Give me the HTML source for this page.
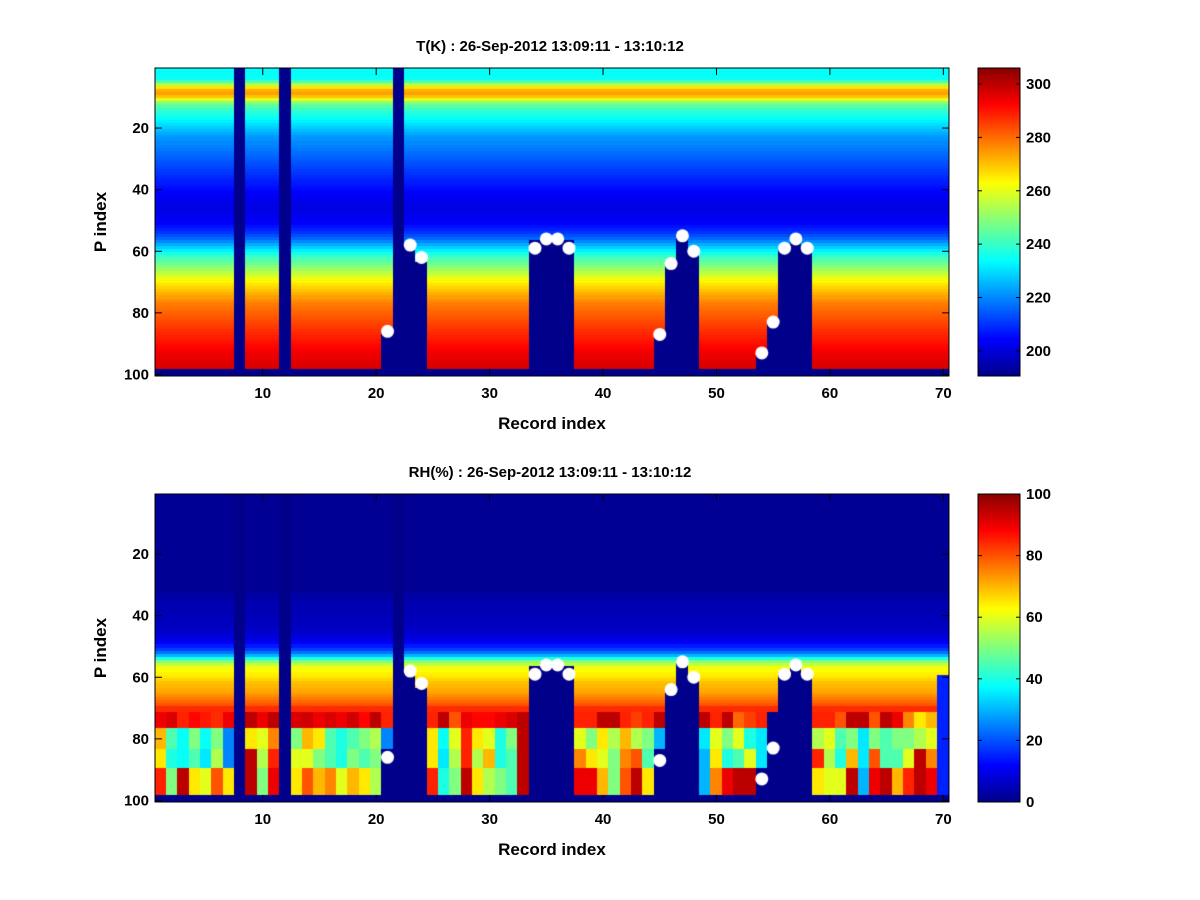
<!DOCTYPE html>
<html><head><meta charset="utf-8"><style>
body{margin:0;background:#fff;width:1200px;height:900px;overflow:hidden;font-family:"Liberation Sans",sans-serif}
svg text{font-family:"Liberation Sans",sans-serif;font-weight:bold;fill:#000}
canvas{position:absolute}
</style></head><body>
<div style="position:relative;width:1200px;height:900px">
<canvas id="c1" width="794" height="308" style="left:155px;top:68px"></canvas>
<canvas id="c2" width="794" height="308" style="left:155px;top:494px"></canvas>
<canvas id="cb1" width="42" height="308" style="left:978px;top:68px"></canvas>
<canvas id="cb2" width="42" height="308" style="left:978px;top:494px"></canvas>
<svg id="ov" width="1200" height="900" style="position:absolute;left:0;top:0"></svg>
</div>
<script>
const nRec=70, nP=100;
const tProfile=[234,234,234,235,242,254,266,272,274,270,260,250,244,240,238,236,234,232,230,228,226,224,222,221,220,219,218,217,216,215,214,213,212,211,210,209,208,207,206,205,204,203,202,202,201,201,201,202,202,203,204,206,208,210,213,216,220,224,228,232,236,240,243,246,249,252,255,258,261,264,266,268,270,272,274,276,278,279,280,281,282,283,284,285,286,287,288,289,290,291,292,293,294,295,295,296,296,297];
const rhProfile=[1,1,1,1,1,1,1,1,1,1,1,1,1,1,1,1,1,1,1,1,1,1,1,1,1,1,1,1,1,1,1,1,2,3,3,4,4,4,4,5,5,5,5,6,6,7,8,9,11,14,18,23,30,40,50,57,61,63,64,65,67,69,70,71,72,74,76,78,80,84];
const rh72=[90,92,85,88,86,84,90,0,95,90,95,0,92,93,90,92,90,93,88,95,85,0,0,0,85,95,80,90,88,88,90,92,95,0,0,0,0,85,85,95,95,85,82,85,95,0,0,0,95,85,95,78,82,85,0,0,0,0,85,85,80,95,95,80,95,90,75,65,70,15];
const rhA=[70,45,38,50,38,50,25,0,65,60,75,0,50,70,65,45,40,45,50,55,25,0,0,0,65,38,60,85,65,60,40,50,95,0,0,0,0,60,50,65,55,70,55,50,30,0,0,0,35,60,50,60,40,35,0,0,0,0,55,60,45,50,35,50,45,50,50,55,60,15];
const rhB=[65,40,38,45,35,55,25,0,95,55,85,0,60,60,50,45,40,50,45,50,0,0,0,0,65,35,55,85,55,70,40,45,95,0,0,0,0,75,65,60,50,75,80,45,0,0,0,0,30,65,40,45,60,35,0,0,0,0,85,55,40,70,35,80,45,45,60,95,75,15];
const rhC=[85,50,95,65,60,80,65,0,95,50,90,0,65,80,70,75,60,70,65,55,0,0,0,0,85,40,50,95,65,55,50,45,95,0,0,0,0,90,90,70,50,80,95,65,0,0,0,0,30,75,90,95,95,0,0,0,0,0,65,60,60,95,30,90,95,70,85,95,90,15];
const cutoff=[99,99,99,99,99,99,99,1,99,99,99,1,99,99,99,99,99,99,99,99,86,1,58,64,99,99,99,99,99,99,99,99,99,57,56,56,57,99,99,99,99,99,99,99,87,64,55,60,99,99,99,99,99,93,83,59,56,59,99,99,99,99,99,99,99,99,99,99,99,99];
const dotRec=[21,23,24,34,35,36,37,45,46,47,48,54,55,56,57,58];
const dotP=[86,58,62,59,56,56,59,87,64,55,60,93,83,59,56,59];
const xTicks=[10,20,30,40,50,60,70];
const yTicks=[20,40,60,80,100];
const tTicks=[200,220,240,260,280,300];
const rhTicks=[0,20,40,60,80,100];
const tMin=190.6,tMax=306,rhMin=0,rhMax=100;

const W=794,H=308;
function xs(r){return (r-0.5)/nRec*W;}
function ys(p){return (p-0.5)/nP*H;}
function jet(t){t=Math.max(0,Math.min(1,t))*0.98+0.01;
 const c=v=>Math.round(255*Math.max(0,Math.min(1,v)));
 return `rgb(${c(1.5-Math.abs(4*t-3))},${c(1.5-Math.abs(4*t-2))},${c(1.5-Math.abs(4*t-1))})`;}
function tVal(c,p){if(p>=99||p>=cutoff[c])return tMin;return tProfile[p-1];}
function rhVal(c,p){if(p>=99||p>=cutoff[c])return 0;
 if(c===69&&p>=60)return rhA[c];
 if(p<=71)return rhProfile[p-1];
 if(p<=76)return rh72[c]; if(p<=83)return rhA[c]; if(p<=89)return rhB[c]; return rhC[c];}
function drawHeat(id,fn,mn,mx){const g=document.getElementById(id).getContext('2d');
 for(let c=0;c<nRec;c++)for(let p=1;p<=nP;p++){const v=fn(c,p);g.fillStyle=jet((v-mn)/(mx-mn));
  const x0=Math.floor(xs(c+0.5)),x1=Math.ceil(xs(c+1.5)),y0=Math.floor(ys(p-0.5)),y1=Math.ceil(ys(p+0.5));
  g.fillRect(x0,y0,x1-x0,y1-y0);}
 g.fillStyle='#fff';
 for(let i=0;i<dotRec.length;i++){g.beginPath();g.arc(xs(dotRec[i]),ys(dotP[i]),6.5,0,7);g.fill();}}
drawHeat('c1',tVal,tMin,tMax);drawHeat('c2',rhVal,rhMin,rhMax);
function drawBar(id){const g=document.getElementById(id).getContext('2d');
 for(let y=0;y<H;y++){g.fillStyle=jet(1-y/(H-1));g.fillRect(0,y,42,1);}}
drawBar('cb1');drawBar('cb2');

const ov=document.getElementById('ov');const NS='http://www.w3.org/2000/svg';
function el(tag,a,txt){const e=document.createElementNS(NS,tag);for(const k in a)e.setAttribute(k,a[k]);if(txt!==undefined)e.textContent=txt;ov.appendChild(e);return e;}
function panel(top,title,cbTicks,cmin,cmax,nm){
 const L=155,T=top;
 let e=el('rect',{x:L,y:T,width:W,height:H,fill:'none',stroke:'#000','stroke-width':1});
 
 xTicks.forEach(v=>{const x=L+xs(v);
  el('line',{x1:x,y1:T,x2:x,y2:T+7,stroke:'#000'});el('line',{x1:x,y1:T+H,x2:x,y2:T+H-7,stroke:'#000'});
  e=el('text',{x:x,y:T+H+22,'text-anchor':'middle','font-size':15},String(v));
  });
 yTicks.forEach(v=>{const y=T+ys(v);
  el('line',{x1:L,y1:y,x2:L+7,y2:y,stroke:'#000'});el('line',{x1:L+W,y1:y,x2:L+W-7,y2:y,stroke:'#000'});
  e=el('text',{x:L-6,y:y+5,'text-anchor':'end','font-size':15},String(v));
  });
 e=el('text',{x:L+W/2,y:T+H+53,'text-anchor':'middle','font-size':17},'Record index');
 
 e=el('text',{x:0,y:0,'text-anchor':'middle','font-size':17,transform:`translate(106,${T+H/2}) rotate(-90)`},'P index');
 
 e=el('text',{x:550,y:T-17,'text-anchor':'middle','font-size':15},title);
 
 e=el('rect',{x:978,y:T,width:42,height:H,fill:'none',stroke:'#000'});
 
 cbTicks.forEach(v=>{const y=T+H-(v-cmin)/(cmax-cmin)*H;
  el('line',{x1:978,y1:y,x2:982,y2:y,stroke:'#000'});el('line',{x1:1020,y1:y,x2:1016,y2:y,stroke:'#000'});
  e=el('text',{x:1026,y:y+5,'font-size':15},String(v));
  });
}
panel(68,'T(K) : 26-Sep-2012 13:09:11 - 13:10:12',tTicks,tMin,tMax,'temperature');
panel(494,'RH(%) : 26-Sep-2012 13:09:11 - 13:10:12',rhTicks,rhMin,rhMax,'humidity');
</script>
</body></html>
